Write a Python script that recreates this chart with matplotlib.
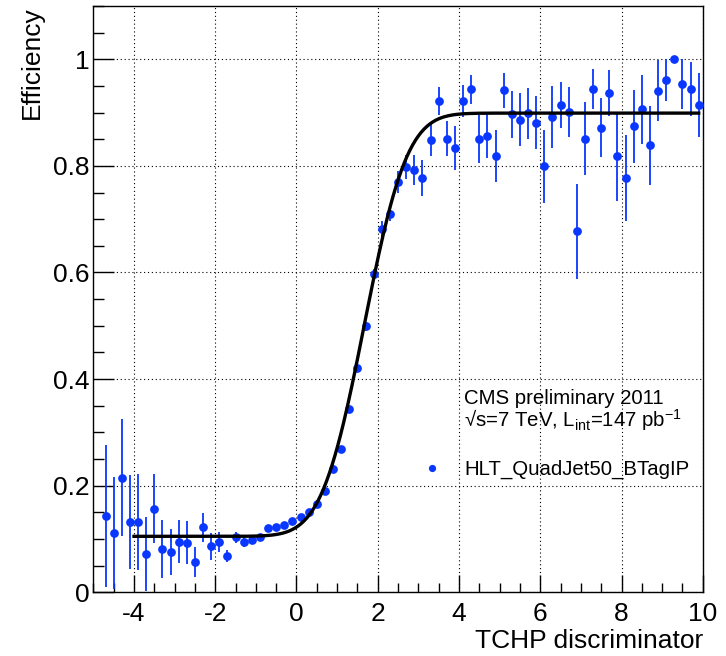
import math
import numpy as np
import matplotlib
matplotlib.use("Agg")
import matplotlib.pyplot as plt
from matplotlib.lines import Line2D
from matplotlib.ticker import MultipleLocator

# ---------------- data ----------------
tchp = [-4.7, -4.5, -4.3, -4.1, -3.9, -3.7, -3.5, -3.3, -3.1, -2.9,
        -2.7, -2.5, -2.3, -2.1, -1.9, -1.7, -1.5, -1.3, -1.1, -0.9,
        -0.7, -0.5, -0.3, -0.1, 0.1, 0.3, 0.5, 0.7, 0.9, 1.1,
        1.3, 1.5, 1.7, 1.9, 2.1, 2.3, 2.5, 2.7, 2.9, 3.1,
        3.3, 3.5, 3.7, 3.9, 4.1, 4.3, 4.5, 4.7, 4.9, 5.1,
        5.3, 5.5, 5.7, 5.9, 6.1, 6.3, 6.5, 6.7, 6.9, 7.1,
        7.3, 7.5, 7.7, 7.9, 8.1, 8.3, 8.5, 8.7, 8.9, 9.1,
        9.3, 9.5, 9.7, 9.9]

eff = [0.143, 0.112, 0.215, 0.132, 0.132, 0.072, 0.157, 0.081, 0.076, 0.095,
       0.093, 0.057, 0.122, 0.086, 0.095, 0.068, 0.103, 0.095, 0.098, 0.104,
       0.120, 0.122, 0.126, 0.133, 0.142, 0.150, 0.166, 0.190, 0.231, 0.269,
       0.343, 0.421, 0.499, 0.598, 0.682, 0.709, 0.770, 0.798, 0.792, 0.777,
       0.849, 0.922, 0.851, 0.833, 0.921, 0.944, 0.851, 0.856, 0.818, 0.942,
       0.897, 0.887, 0.899, 0.881, 0.799, 0.892, 0.914, 0.901, 0.677, 0.851,
       0.944, 0.872, 0.936, 0.818, 0.777, 0.874, 0.906, 0.839, 0.941, 0.961,
       1.000, 0.953, 0.944, 0.914]

eff_err = [0.133, 0.105, 0.110, 0.088, 0.090, 0.069, 0.065, 0.055, 0.043, 0.040,
           0.040, 0.028, 0.027, 0.025, 0.019, 0.011, 0.010, 0.010, 0.008, 0.006,
           0.006, 0.006, 0.005, 0.005, 0.005, 0.005, 0.005, 0.005, 0.006, 0.006,
           0.007, 0.007, 0.008, 0.008, 0.015, 0.013, 0.020, 0.022, 0.028, 0.034,
           0.031, 0.026, 0.033, 0.041, 0.030, 0.027, 0.045, 0.042, 0.049, 0.033,
           0.044, 0.049, 0.048, 0.050, 0.069, 0.058, 0.043, 0.047, 0.089, 0.069,
           0.038, 0.055, 0.043, 0.083, 0.081, 0.068, 0.065, 0.074, 0.057, 0.040,
           0.000, 0.047, 0.050, 0.060]

# fit (erf turn-on) parameters
fit_low = 0.105
fit_high = 0.899
fit_mu = 1.67
fit_sigma = 1.17
fit_range = (-4.0, 9.9)

BLUE = "#0a37ff"

plt.rcParams["font.family"] = ["Liberation Sans", "DejaVu Sans"]
plt.rcParams["mathtext.fontset"] = "custom"
plt.rcParams["mathtext.rm"] = "Liberation Sans"
plt.rcParams["mathtext.it"] = "Liberation Sans"
plt.rcParams["mathtext.default"] = "regular"
plt.rcParams["axes.unicode_minus"] = False


def turn_on(x):
    z = (np.asarray(x) - fit_mu) / fit_sigma
    erf = np.array([math.erf(v) for v in z])
    return fit_low + (fit_high - fit_low) * 0.5 * (1.0 + erf)


fig = plt.figure(figsize=(7.26, 6.56), dpi=100)
ax = fig.add_axes([0.1286, 0.0971, 0.8394, 0.8938])

# ---------------- points + fit ----------------
ax.errorbar(tchp, eff, yerr=eff_err, fmt="o", color=BLUE, ecolor=BLUE,
            elinewidth=1.3, capsize=0, markersize=6.3, markeredgewidth=0,
            zorder=3)

xf = np.linspace(fit_range[0], fit_range[1], 400)
ax.plot(xf, turn_on(xf), color="black", linewidth=2.4, zorder=4)

# ---------------- axes style (ROOT look) ----------------
ax.set_xlim(-5, 10)
ax.set_ylim(0, 1.1)
ax.xaxis.set_major_locator(MultipleLocator(2))
ax.xaxis.set_minor_locator(MultipleLocator(0.5))
ax.yaxis.set_minor_locator(MultipleLocator(0.05))
ax.set_yticks([0, 0.2, 0.4, 0.6, 0.8, 1.0])
ax.set_yticklabels(["0", "0.2", "0.4", "0.6", "0.8", "1"])

ax.tick_params(axis="x", which="major", direction="in", length=12, width=1,
               labelsize=19, pad=7)
ax.tick_params(axis="x", which="minor", direction="in", length=6.5, width=1)
ax.tick_params(axis="y", which="major", direction="in", length=15, width=1,
               labelsize=19, pad=2.5)
ax.tick_params(axis="y", which="minor", direction="in", length=8, width=1)

for s in ax.spines.values():
    s.set_linewidth(1.0)

ax.grid(True, which="major", color="black", linestyle=(0, (1, 2.5)),
        linewidth=0.8)
ax.set_axisbelow(True)

ax.set_xlabel("TCHP discriminator", fontsize=19, loc="right")
ax.xaxis.set_label_coords(1.0, -0.062)
ax.set_ylabel("Efficiency", fontsize=19, loc="top")
ax.yaxis.set_label_coords(-0.0817, 1.0)

# ---------------- annotation + legend ----------------
ax.text(0.609, 0.331, "CMS preliminary 2011", transform=ax.transAxes,
        fontsize=14.7, va="center", ha="left")
ax.text(0.609, 0.294, "√s=7 TeV, L$_{int}$=147 pb$^{-1}$",
        transform=ax.transAxes, fontsize=14.7, va="center", ha="left")

dot = Line2D([], [], marker="o", linestyle="none", color=BLUE,
             markersize=5.2, markeredgewidth=0)
ax.legend(handles=[dot], labels=["HLT_QuadJet50_BTagIP"], loc="center left",
          bbox_to_anchor=(0.5386, 0.2098), frameon=False, fontsize=14.7,
          borderpad=0, borderaxespad=0, handlelength=1.0, handletextpad=1.1)

fig.savefig("out.png", dpi=100)
